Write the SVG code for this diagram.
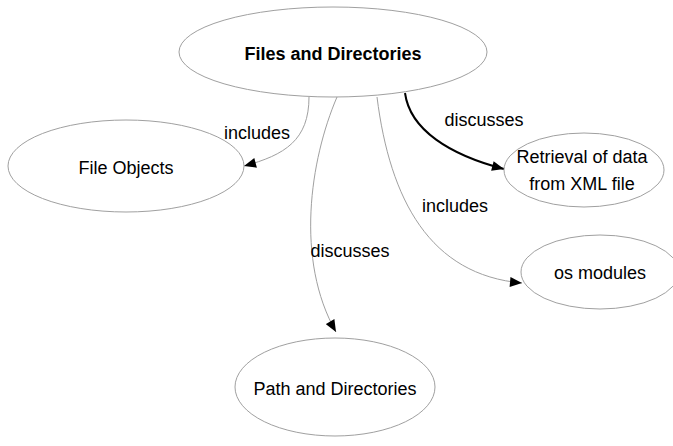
<svg xmlns="http://www.w3.org/2000/svg" width="673" height="446" viewBox="0 0 673 446">
<style>
.node ellipse{fill:#ffffff;stroke:#a0a0a0;stroke-width:1}
text{font-family:"Liberation Sans",Arial,sans-serif;font-size:18px;fill:#000;text-anchor:middle}
.title{font-weight:bold}
.thin{fill:none;stroke:#a0a0a0;stroke-width:1;marker-end:url(#ah)}
.thick{fill:none;stroke:#000;stroke-width:2;marker-end:url(#ah)}
</style>
<defs>
<marker id="ah" markerUnits="userSpaceOnUse" viewBox="0 0 12 10" refX="12" refY="5" markerWidth="13" markerHeight="10" orient="auto">
<path d="M0,0 L12,5 L0,10 Z" fill="#000"/>
</marker>
</defs>
<rect width="673" height="446" fill="#ffffff"/>
<g id="connectors">
<path class="thin" d="M309,97 C309,140 285,155 244,166"/>
<path class="thick" d="M405,93 C410,130 450,155 504,169"/>
<path class="thin" d="M337,97 C310,160 295,260 336,332"/>
<path class="thin" d="M377,97 C390,200 430,275 522,283"/>
<text x="257" y="139">includes</text>
<text x="484" y="126">discusses</text>
<text x="350" y="257">discusses</text>
<text x="455" y="212">includes</text>
</g>
<g id="n_files" class="node">
<ellipse cx="333" cy="52" rx="154" ry="45"/>
<text class="title" x="333" y="60" font-size="17.5">Files and Directories</text>
</g>
<g id="n_fileobjects" class="node">
<ellipse cx="126" cy="166" rx="118" ry="46"/>
<text x="126" y="174">File Objects</text>
</g>
<g id="n_retrieval" class="node">
<ellipse cx="584" cy="170" rx="80" ry="37"/>
<text x="582" y="163">Retrieval of data</text>
<text x="582" y="190">from XML file</text>
</g>
<g id="n_os" class="node">
<ellipse cx="600" cy="272" rx="79" ry="37"/>
<text x="600" y="279">os modules</text>
</g>
<g id="n_path" class="node">
<ellipse cx="335" cy="387" rx="100" ry="49"/>
<text x="335" y="395">Path and Directories</text>
</g>
</svg>
